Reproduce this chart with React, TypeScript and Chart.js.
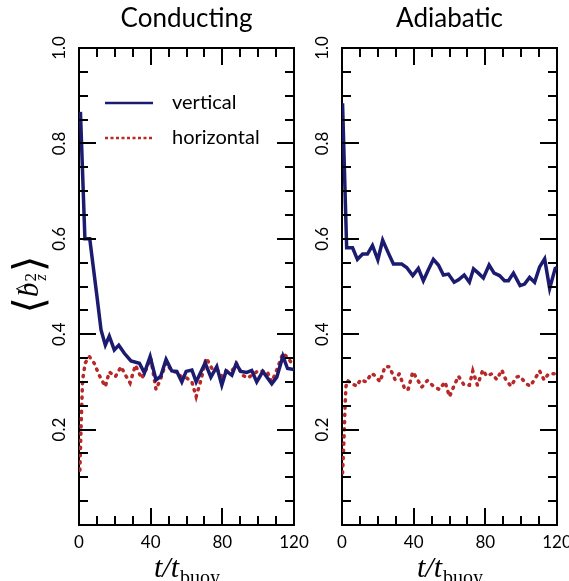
import React, { useEffect, useRef } from 'react';
import { Chart, registerables } from 'chart.js';

Chart.register(...registerables);

// ---------- data ----------
const condVertT = [0.8, 3.3, 6, 8, 10, 12.3, 14.7, 16.9, 19.7, 22.2, 25.3, 29, 33.7, 36.5, 39.7, 43, 45.6, 48.6, 51.8, 54.6, 57.4, 59.8, 63, 65.4, 70.4, 73.6, 76.9, 79.7, 82.1, 85.3, 87.7, 90.3, 93.6, 96.4, 99.2, 102.6, 107.6, 110.4, 113.8, 116.4, 120];
const condVertV = [0.866, 0.6, 0.6, 0.54, 0.48, 0.409, 0.377, 0.396, 0.367, 0.377, 0.36, 0.344, 0.339, 0.319, 0.353, 0.304, 0.312, 0.347, 0.323, 0.322, 0.3, 0.322, 0.325, 0.3, 0.34, 0.31, 0.332, 0.293, 0.323, 0.314, 0.338, 0.322, 0.32, 0.324, 0.3, 0.322, 0.296, 0.31, 0.354, 0.328, 0.326];

const condHorT = [0.5, 1.1, 2, 3.5, 5.8, 8.5, 11.3, 14.7, 16.9, 20.3, 23.5, 25.8, 28.5, 31.5, 35, 38.2, 40, 43, 45.6, 48.6, 51.8, 54.6, 57.4, 60.2, 63, 65.4, 68.5, 71, 74.2, 76.9, 79.7, 82.1, 85.3, 88, 90.9, 94, 97, 100.1, 102.9, 105, 107.6, 110.7, 113.8, 116.9, 119.7];
const condHorV = [0.115, 0.2, 0.304, 0.34, 0.353, 0.339, 0.314, 0.29, 0.321, 0.311, 0.332, 0.315, 0.298, 0.335, 0.307, 0.332, 0.35, 0.284, 0.307, 0.34, 0.323, 0.32, 0.31, 0.308, 0.3, 0.269, 0.31, 0.35, 0.328, 0.327, 0.312, 0.323, 0.323, 0.338, 0.315, 0.308, 0.315, 0.324, 0.322, 0.322, 0.3, 0.328, 0.36, 0.35, 0.332];

const adiaVertT = [0.3, 2.6, 5.9, 8.6, 11.5, 14.2, 17, 20, 22.7, 25.9, 28.7, 33.3, 36.1, 39.5, 42.6, 45.4, 48.2, 51, 53.8, 56.6, 59.4, 62.6, 65, 68.2, 71.1, 73.4, 76.1, 78.9, 82.1, 84.9, 87.9, 90.7, 92.9, 95.7, 99.4, 101.9, 104.7, 107.5, 110.3, 113.1, 115.9, 119, 120];
const adiaVertV = [0.884, 0.581, 0.581, 0.557, 0.568, 0.568, 0.586, 0.556, 0.597, 0.57, 0.547, 0.547, 0.54, 0.523, 0.538, 0.512, 0.535, 0.557, 0.545, 0.524, 0.526, 0.509, 0.514, 0.524, 0.509, 0.537, 0.528, 0.518, 0.545, 0.528, 0.523, 0.512, 0.512, 0.528, 0.502, 0.505, 0.519, 0.509, 0.541, 0.558, 0.496, 0.538, 0.54];

const adiaHorT = [0.3, 1.1, 1.7, 2.2, 3.0, 5.4, 8.2, 10.4, 13.4, 16.6, 19, 21.2, 24, 26.4, 29.6, 32, 35.2, 37, 39.5, 42.1, 44.5, 47.7, 51, 54.4, 57.5, 60, 62.2, 65, 68.2, 71.1, 73, 75.6, 78.6, 80.8, 83.6, 86.4, 89.2, 91.6, 94.4, 97.2, 99.4, 102.2, 105, 107.8, 110.3, 112.8, 115.3, 119, 120];
const adiaHorV = [0.109, 0.178, 0.248, 0.29, 0.303, 0.297, 0.291, 0.305, 0.3, 0.318, 0.311, 0.3, 0.332, 0.332, 0.305, 0.317, 0.283, 0.285, 0.321, 0.305, 0.289, 0.303, 0.291, 0.284, 0.3, 0.269, 0.289, 0.312, 0.293, 0.293, 0.323, 0.293, 0.325, 0.312, 0.317, 0.305, 0.325, 0.303, 0.291, 0.31, 0.312, 0.298, 0.291, 0.307, 0.323, 0.304, 0.317, 0.317, 0.32];

const xMajorTicks = [0, 40, 80, 120];
const yMajorTicks = [0.2, 0.4, 0.6, 0.8, 1.0];
const seriesLabels = ['vertical', 'horizontal'];
const panelTitles = ['Conducting', 'Adiabatic'];

// ---------- styling / layout ----------
const W = 569;
const H = 581;
const PLOT_TOP = 48;
const X_AXIS_H = 56;
const Y_AXIS_W = 40;
const BLUE = '#1b1b6f';
const RED = '#b82828';
const TICK_FONT = { family: 'Lato', size: 17 };

type Panel = {
  title: string;
  left: number;
  right: number;
  vertT: number[];
  vertV: number[];
  horT: number[];
  horV: number[];
  legend: boolean;
  yTitle: boolean;
};

const panels: Panel[] = [
  { title: panelTitles[0], left: 79, right: 294, vertT: condVertT, vertV: condVertV, horT: condHorT, horV: condHorV, legend: true, yTitle: true },
  { title: panelTitles[1], left: 342, right: 557, vertT: adiaVertT, vertV: adiaVertV, horT: adiaHorT, horV: adiaHorV, legend: false, yTitle: false },
];

const toPoints = (t: number[], v: number[]) => t.map((x, i) => ({ x, y: v[i] }));

function makeDecor(p: Panel) {
  return {
    id: 'decor',
    afterDraw(chart: any) {
      const ctx: CanvasRenderingContext2D = chart.ctx;
      const a = chart.chartArea;
      const xs = chart.scales.x;
      const ys = chart.scales.y;
      ctx.save();
      // inward tick marks on all four sides
      ctx.strokeStyle = '#000';
      ctx.lineWidth = 2;
      ctx.beginPath();
      xs.ticks.forEach((t: any) => {
        const px = Math.round(xs.getPixelForValue(t.value));
        const len = t.label ? 17 : 9;
        ctx.moveTo(px, a.bottom);
        ctx.lineTo(px, a.bottom - len);
        ctx.moveTo(px, a.top);
        ctx.lineTo(px, a.top + len);
      });
      ys.ticks.forEach((t: any) => {
        const py = Math.round(ys.getPixelForValue(t.value));
        const len = t.label ? 17 : 9;
        ctx.moveTo(a.left, py);
        ctx.lineTo(a.left + len, py);
        ctx.moveTo(a.right, py);
        ctx.lineTo(a.right - len, py);
      });
      ctx.stroke();

      ctx.fillStyle = '#000';
      // panel title
      ctx.font = '26px Lato';
      ctx.textAlign = 'center';
      ctx.textBaseline = 'alphabetic';
      ctx.fillText(p.title, (a.left + a.right) / 2, 27);

      // x-axis title t/t_buoy
      const cx = (a.left + a.right) / 2;
      ctx.textAlign = 'left';
      const mainFont = 'italic 30px "Liberation Serif"';
      const subFont = '20px "Liberation Serif"';
      ctx.font = mainFont;
      const w1 = ctx.measureText('t/t').width;
      ctx.font = subFont;
      const w2 = ctx.measureText('buoy').width;
      const x0 = cx - (w1 + w2) / 2;
      ctx.font = mainFont;
      ctx.fillText('t/t', x0, 577);
      ctx.font = subFont;
      ctx.fillText('buoy', x0 + w1 + 1, 584);

      // legend
      if (p.legend) {
        const ds = chart.data.datasets;
        const rows = [103, 138];
        ds.forEach((d: any, i: number) => {
          ctx.save();
          ctx.strokeStyle = d.borderColor;
          ctx.lineWidth = 2.5;
          ctx.setLineDash(d.borderDash ? [3, 2.5] : []);
          ctx.beginPath();
          ctx.moveTo(a.left + 26, rows[i]);
          ctx.lineTo(a.left + 74, rows[i]);
          ctx.stroke();
          ctx.restore();
          ctx.font = '20px Lato';
          ctx.textBaseline = 'middle';
          ctx.textAlign = 'left';
          ctx.fillText(d.label, a.left + 93, rows[i]);
        });
      }

      // y-axis title <b^2_z>
      if (p.yTitle) {
        ctx.save();
        ctx.translate(38, (a.top + a.bottom) / 2 - 2);
        ctx.rotate(-Math.PI / 2);
        ctx.textBaseline = 'alphabetic';
        ctx.textAlign = 'left';
        const brFont = '42px "DejaVu Sans"';
        const bFont = 'italic 29px "Liberation Serif"';
        const sFont = '17px "Liberation Serif"';
        const zFont = 'italic 16px "Liberation Serif"';
        ctx.font = brFont;
        const wl = ctx.measureText('⟨').width;
        ctx.font = bFont;
        const wb = ctx.measureText('b').width;
        ctx.font = sFont;
        const ws = ctx.measureText('2').width;
        const total = wl * 2 + wb + ws + 2;
        let x = -total / 2;
        ctx.font = brFont;
        ctx.fillText('⟨', x, 5);
        x += wl;
        ctx.font = bFont;
        ctx.fillText('b', x, 0);
        ctx.font = '22px "Liberation Serif"';
        ctx.fillText('^', x + 3, -8);
        x += wb;
        ctx.font = sFont;
        ctx.fillText('2', x + 1, -2);
        ctx.font = zFont;
        ctx.fillText('z', x + 2, 8);
        x += ws + 2;
        ctx.font = brFont;
        ctx.fillText('⟩', x, 5);
        ctx.restore();
      }
      ctx.restore();
    },
  };
}

function buildChart(canvas: HTMLCanvasElement, p: Panel) {
  const border = { display: true, color: '#000', width: 2 };
  const noGrid = { display: false, drawTicks: false };
  return new Chart(canvas, {
    type: 'line',
    data: {
      datasets: [
        {
          label: seriesLabels[0],
          data: toPoints(p.vertT, p.vertV),
          borderColor: BLUE,
          borderWidth: 3.5,
          pointRadius: 0,
          fill: false,
          tension: 0,
          xAxisID: 'x',
          yAxisID: 'y',
        },
        {
          label: seriesLabels[1],
          data: toPoints(p.horT, p.horV),
          borderColor: RED,
          borderWidth: 3.5,
          borderDash: [1.2, 6],
          borderCapStyle: 'round',
          pointRadius: 0,
          fill: false,
          tension: 0,
          xAxisID: 'x',
          yAxisID: 'y',
        },
      ],
    },
    options: {
      animation: false,
      responsive: false,
      devicePixelRatio: 1,
      events: [],
      layout: { padding: { left: p.left - Y_AXIS_W, right: W - p.right, top: PLOT_TOP, bottom: 0 } },
      plugins: { legend: { display: false }, tooltip: { enabled: false }, title: { display: false } },
      scales: {
        x: {
          type: 'linear',
          position: 'bottom',
          min: 0,
          max: 120,
          grid: noGrid,
          border,
          ticks: {
            stepSize: 10,
            autoSkip: false,
            maxRotation: 0,
            minRotation: 0,
            padding: 7,
            color: '#000',
            font: TICK_FONT,
            callback: (v: any) => (xMajorTicks.includes(Number(v)) ? String(v) : ''),
          },
          afterFit: (s: any) => {
            s.height = X_AXIS_H;
            s.paddingLeft = 0;
            s.paddingRight = 0;
          },
        },
        x2: {
          type: 'linear',
          position: 'top',
          min: 0,
          max: 120,
          grid: noGrid,
          border,
          ticks: { display: false },
          afterFit: (s: any) => {
            s.height = 0;
            s.paddingLeft = 0;
            s.paddingRight = 0;
          },
        },
        y: {
          type: 'linear',
          position: 'left',
          min: 0,
          max: 1,
          grid: noGrid,
          border,
          ticks: {
            stepSize: 0.05,
            autoSkip: false,
            minRotation: 90,
            maxRotation: 90,
            crossAlign: 'center',
            padding: 8,
            color: '#000',
            font: TICK_FONT,
            callback: (v: any) => {
              const m = yMajorTicks.find((t) => Math.abs(t - Number(v)) < 1e-6);
              return m !== undefined ? m.toFixed(1) : '';
            },
          },
          afterFit: (s: any) => {
            s.width = Y_AXIS_W;
            s.paddingTop = 0;
            s.paddingBottom = 0;
          },
        },
        y2: {
          type: 'linear',
          position: 'right',
          min: 0,
          max: 1,
          grid: noGrid,
          border,
          ticks: { display: false },
          afterFit: (s: any) => {
            s.width = 0;
            s.paddingTop = 0;
            s.paddingBottom = 0;
          },
        },
      },
    } as any,
    plugins: [makeDecor(p)],
  });
}

export default function App() {
  const leftRef = useRef<HTMLCanvasElement>(null);
  const rightRef = useRef<HTMLCanvasElement>(null);
  useEffect(() => {
    const charts = [buildChart(leftRef.current!, panels[0]), buildChart(rightRef.current!, panels[1])];
    return () => charts.forEach((c) => c.destroy());
  }, []);
  return (
    <div style={{ position: 'absolute', left: 0, top: 0, width: W, height: H, background: '#fff' }}>
      <canvas ref={leftRef} width={W} height={H} style={{ position: 'absolute', left: 0, top: 0 }} />
      <canvas ref={rightRef} width={W} height={H} style={{ position: 'absolute', left: 0, top: 0 }} />
    </div>
  );
}
